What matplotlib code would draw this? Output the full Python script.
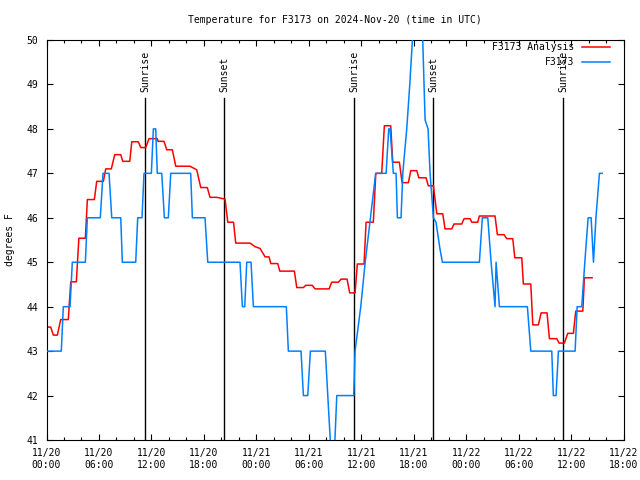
import matplotlib
matplotlib.use("Agg")
import matplotlib.pyplot as plt
from matplotlib.ticker import MultipleLocator

# time axis: hours after 2024-11-20 00:00 UTC
ana_hours = [0.0, 0.48, 0.78, 1.24, 1.62, 2.49, 2.77, 3.41, 3.70, 4.44, 4.67, 5.47,
             5.74, 6.50, 6.77, 7.41, 7.80, 8.49, 8.72, 9.52, 9.75, 10.50, 10.78,
             11.35, 11.72, 12.67, 12.75, 13.44, 13.75, 14.39, 14.78, 16.41, 17.18,
             17.64, 18.39, 18.70, 19.47, 20.42, 20.73, 21.39, 21.64, 23.28, 23.85,
             24.42, 25.00, 25.45, 25.65, 26.45, 26.68, 28.35, 28.62, 29.38, 29.65,
             30.40, 30.71, 32.32, 32.62, 33.38, 33.69, 34.37, 34.68, 35.29, 35.55,
             36.32, 36.55, 37.38, 37.66, 38.34, 38.64, 39.37, 39.60, 40.36, 40.67,
             41.39, 41.66, 42.35, 42.58, 43.41, 43.67, 44.25, 44.64, 45.32, 45.58,
             46.35, 46.61, 47.49, 47.76, 48.44, 48.64, 49.32, 49.51, 51.30, 51.57,
             52.33, 52.64, 53.33, 53.56, 54.36, 54.54, 55.39, 55.62, 56.26, 56.57,
             57.25, 57.52, 58.36, 58.63, 59.23, 59.62, 60.26, 60.53, 61.34, 61.52,
             62.40]
ana_temps = [43.54, 43.54, 43.36, 43.36, 43.71, 43.71, 44.56, 44.56, 45.54, 45.54,
             46.41, 46.41, 46.82, 46.82, 47.10, 47.10, 47.42, 47.42, 47.27, 47.27,
             47.71, 47.71, 47.58, 47.58, 47.78, 47.78, 47.72, 47.72, 47.53, 47.53,
             47.16, 47.16, 47.08, 46.68, 46.68, 46.46, 46.46, 46.42, 45.90, 45.90,
             45.43, 45.43, 45.35, 45.31, 45.12, 45.12, 44.97, 44.97, 44.80, 44.80,
             44.43, 44.43, 44.48, 44.48, 44.40, 44.40, 44.55, 44.55, 44.62, 44.62,
             44.31, 44.31, 44.96, 44.96, 45.90, 45.90, 47.00, 47.00, 48.07, 48.07,
             47.25, 47.25, 46.79, 46.79, 47.06, 47.06, 46.90, 46.90, 46.72, 46.72,
             46.09, 46.09, 45.75, 45.75, 45.86, 45.86, 45.98, 45.98, 45.90, 45.90,
             46.04, 46.04, 45.62, 45.62, 45.53, 45.53, 45.10, 45.10, 44.51, 44.51,
             43.59, 43.59, 43.86, 43.86, 43.28, 43.28, 43.18, 43.18, 43.40, 43.40,
             43.90, 43.90, 44.65, 44.65]

obs_hours = [0.0, 1.69, 1.92, 2.69, 2.95, 4.44, 4.67, 6.15, 6.46, 7.15, 7.46, 8.49,
             8.67, 10.20, 10.43, 10.92, 11.15, 11.99, 12.22, 12.49, 12.67, 13.18,
             13.48, 13.93, 14.21, 16.49, 16.68, 18.13, 18.44, 22.13, 22.40, 22.67,
             22.90, 23.39, 23.66, 27.43, 27.66, 29.11, 29.38, 29.88, 30.18, 31.89,
             32.17, 32.54, 32.92, 33.20, 35.14, 35.29, 35.94, 36.45, 37.05, 37.65,
             38.84, 39.14, 39.29, 39.67, 39.98, 40.13, 40.55, 40.75, 41.20, 41.55,
             41.85, 42.50, 43.03, 43.30, 43.64, 43.87, 44.25, 44.55, 45.00, 45.28,
             49.51, 49.85, 50.47, 50.85, 51.30, 51.42, 51.80, 55.00, 55.39, 57.79,
             57.97, 58.28, 58.55, 60.46, 60.69, 61.22, 61.57, 61.95, 62.29, 62.56,
             62.84, 63.24, 63.55]
obs_temps = [43, 43, 44, 44, 45, 45, 46, 46, 47, 47, 46, 46,
             45, 45, 46, 46, 47, 47, 48, 48, 47, 47,
             46, 46, 47, 47, 46, 46, 45, 45, 44, 44,
             45, 45, 44, 44, 43, 43, 42, 42, 43, 43,
             42, 40.7, 40.7, 42, 42, 43, 44, 45, 46, 47,
             47, 48, 48, 47, 47, 46, 46, 47, 48, 49,
             50, 51, 50, 48.2, 48, 47, 46, 45.9, 45.3, 45,
             45, 46, 46, 45, 44, 45, 44, 44, 43, 43,
             42, 42, 43, 43, 44, 44, 45, 46, 46, 45,
             46, 47, 47]

sun_hours = [11.3, 20.34, 35.21, 44.25, 59.12]
sun_labels = ["Sunrise", "Sunset", "Sunrise", "Sunset", "Sunrise"]

tick_hours = list(range(0, 67, 6))
tick_labels = ["11/20\n00:00", "11/20\n06:00", "11/20\n12:00", "11/20\n18:00",
               "11/21\n00:00", "11/21\n06:00", "11/21\n12:00", "11/21\n18:00",
               "11/22\n00:00", "11/22\n06:00", "11/22\n12:00", "11/22\n18:00"]

series_names = ["F3173 Analysis", "F3173"]
series_colors = ["#ff0000", "#0080ff"]

plt.rcParams["font.family"] = ["DejaVu Sans Mono"]
plt.rcParams["font.size"] = 7

fig = plt.figure(figsize=(6.4, 4.8), dpi=100)
ax = fig.add_axes([0.0727, 0.0833, 0.9016, 0.8334])

# sunrise / sunset markers
for h, lab in zip(sun_hours, sun_labels):
    ax.plot([h, h], [41, 48.7], color="black", lw=1.0, zorder=1)
    ax.text(h, 48.83, lab, rotation=90, ha="center", va="bottom", fontsize=7)

ax.plot(ana_hours, ana_temps, color=series_colors[0], lw=1.1, zorder=2)
ax.plot(obs_hours, obs_temps, color=series_colors[1], lw=1.1, zorder=3)

# legend drawn by hand, right-aligned text like gnuplot
for i, (name, col) in enumerate(zip(series_names, series_colors)):
    yy = 0.9825 - i * 0.0375
    ax.plot([0.928, 0.977], [yy, yy], color=col, lw=1.1, transform=ax.transAxes)
    ax.text(0.914, yy, name, ha="right", va="center", transform=ax.transAxes,
            fontsize=7)

ax.set_xlim(0, 66)
ax.set_ylim(41, 50)
ax.set_xticks(tick_hours)
ax.set_xticklabels(tick_labels)
ax.xaxis.set_minor_locator(MultipleLocator(2))
ax.yaxis.set_major_locator(MultipleLocator(1))
ax.tick_params(which="both", direction="in", top=True, right=True, width=0.8)
ax.tick_params(which="major", length=4, pad=6)
ax.tick_params(which="minor", length=2)
for s in ax.spines.values():
    s.set_linewidth(0.8)

ax.set_ylabel("degrees F", labelpad=8)
ax.set_title("Temperature for F3173 on 2024-Nov-20 (time in UTC)", fontsize=7, pad=12)

fig.savefig("out.png", dpi=100)
